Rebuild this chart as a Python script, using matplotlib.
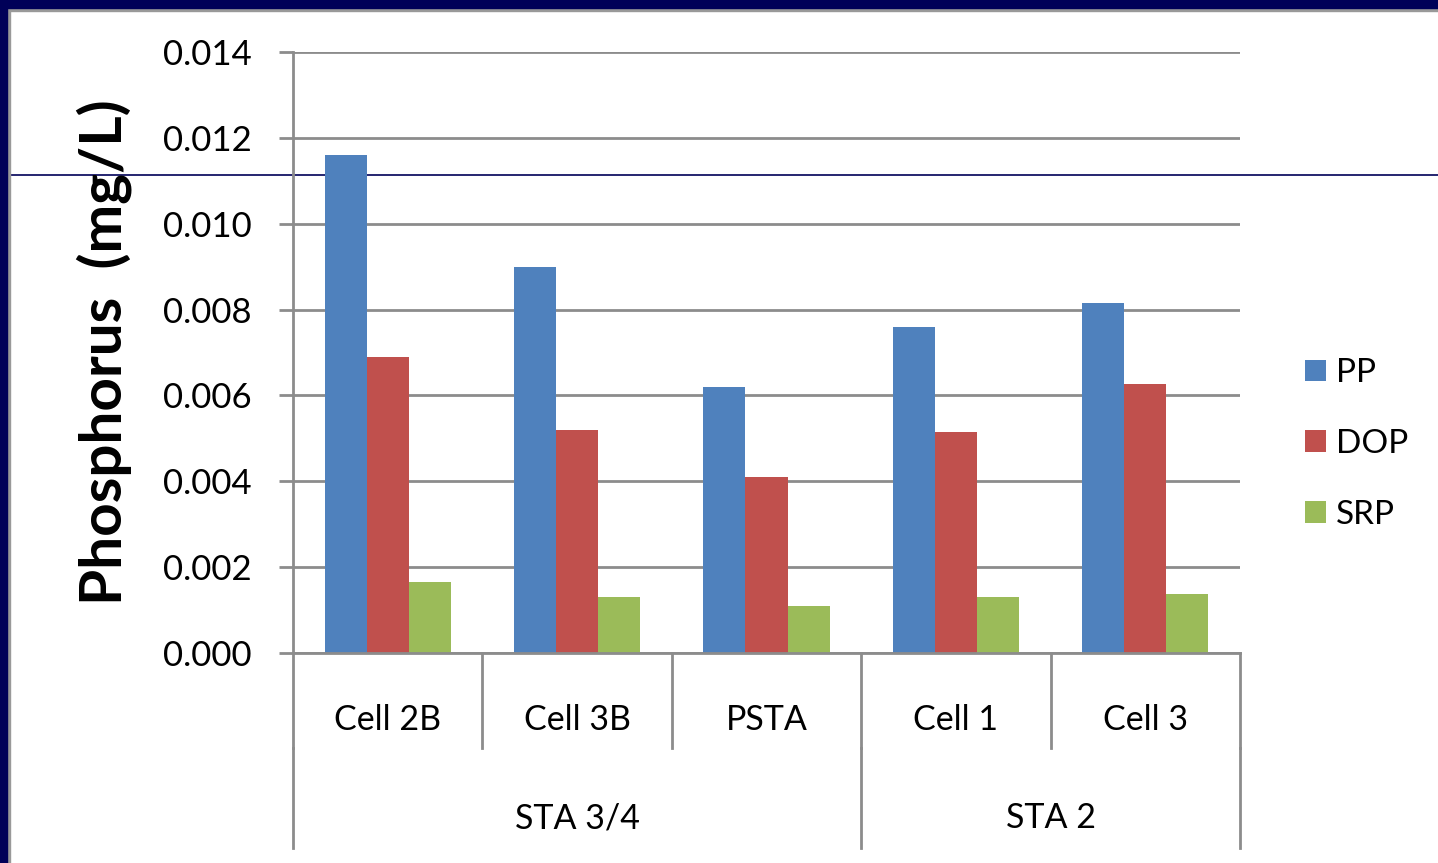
import matplotlib
matplotlib.use("Agg")
import matplotlib.pyplot as plt
from matplotlib.lines import Line2D
from matplotlib.patches import Rectangle, Patch
import numpy as np

plt.rcParams['font.family'] = ['Lato', 'DejaVu Sans']

cells = ["Cell 2B", "Cell 3B", "PSTA", "Cell 1", "Cell 3"]
groups = ["STA 3/4", "STA 2"]
group_sizes = [3, 2]
series = ["PP", "DOP", "SRP"]
pp = [0.0116, 0.0090, 0.0062, 0.0076, 0.00815]
dop = [0.0069, 0.0052, 0.0041, 0.00515, 0.00627]
srp = [0.00165, 0.0013, 0.0011, 0.0013, 0.00137]
yticks = [0.000, 0.002, 0.004, 0.006, 0.008, 0.010, 0.012, 0.014]
colors = ["#4F81BD", "#C0504D", "#9BBB59"]

W, H = 1438, 863
fig = plt.figure(figsize=(W / 100, H / 100), dpi=100)
fig.patch.set_facecolor("white")

ax = fig.add_axes([293 / W, 1 - 653 / H, (1240 - 293) / W, (653 - 52) / H])
ax.set_facecolor("none")

x = np.arange(len(cells))
bw = 0.222
for i, (vals, c) in enumerate(zip([pp, dop, srp], colors)):
    ax.bar(x + (i - 1) * bw, vals, width=bw, color=c, zorder=3, label=series[i])

ax.set_xlim(-0.5, len(cells) - 0.5)
ax.set_ylim(0, 0.014)
ax.set_yticks(yticks)
ax.set_yticklabels([f"{v:.3f}" for v in yticks], fontsize=25)
grid_c = "#8c8c8c"
ax.yaxis.grid(True, color=grid_c, linewidth=2.0, zorder=1)
ax.tick_params(axis="y", length=10, width=2.0, color=grid_c, pad=20)
ax.set_xticks([])
for s in ["top", "right"]:
    ax.spines[s].set_visible(False)
ax.spines["left"].set_color(grid_c)
ax.spines["left"].set_linewidth(2.0)
ax.spines["bottom"].set_color(grid_c)
ax.spines["bottom"].set_linewidth(2.0)
ax.spines["bottom"].set_zorder(4)

tr = ax.get_xaxis_transform()
y_cat = -0.158
y_grp = -0.3245
# category separators
for b in np.arange(len(cells) + 1) - 0.5:
    ax.plot([b, b], [0, y_cat], transform=tr, color=grid_c, lw=2.0, clip_on=False, zorder=4)
# group separators
edges = np.concatenate([[0], np.cumsum(group_sizes)]) - 0.5
for b in edges:
    ax.plot([b, b], [y_cat, y_grp], transform=tr, color=grid_c, lw=2.0, clip_on=False, zorder=4)
for xi, name in zip(x, cells):
    ax.text(xi, -0.111, name, transform=tr, ha="center", va="center", fontsize=24.5)
for gi, name in enumerate(groups):
    mid = (edges[gi] + edges[gi + 1]) / 2
    ax.text(mid, -0.275, name, transform=tr, ha="center", va="center", fontsize=24.5)

fig.text(104 / W, 1 - 352 / H, "Phosphorus  (mg/L)", rotation=90, ha="center", va="center",
         fontsize=42, fontweight="bold")

handles = [Patch(facecolor=c, edgecolor="none") for c in colors]
fig.legend(handles, series, loc="center left", bbox_to_anchor=(1305 / W, 1 - 444 / H),
           frameon=False, fontsize=24, handlelength=0.62, handleheight=0.62,
           handletextpad=0.3, labelspacing=1.22, borderpad=0, borderaxespad=0)

# slide frame: navy border on top and left, thin rule across
navy = "#000058"
fig.add_artist(Rectangle((0, 1 - 8 / H), 1, 8 / H, transform=fig.transFigure, color=navy, zorder=10))
fig.add_artist(Rectangle((0, 1 - 11 / H), 1, 3 / H, transform=fig.transFigure, color="#999999", zorder=9))
fig.add_artist(Rectangle((0, 0), 7 / W, 1, transform=fig.transFigure, color=navy, zorder=10))
fig.add_artist(Rectangle((7 / W, 0), 3 / W, 1 - 8 / H, transform=fig.transFigure, color="#999999", zorder=9))
fig.add_artist(Line2D([10 / W, 1], [1 - 175 / H, 1 - 175 / H], transform=fig.transFigure,
                      color=navy, lw=1.2, zorder=-1))

fig.savefig("out.png", dpi=100)
